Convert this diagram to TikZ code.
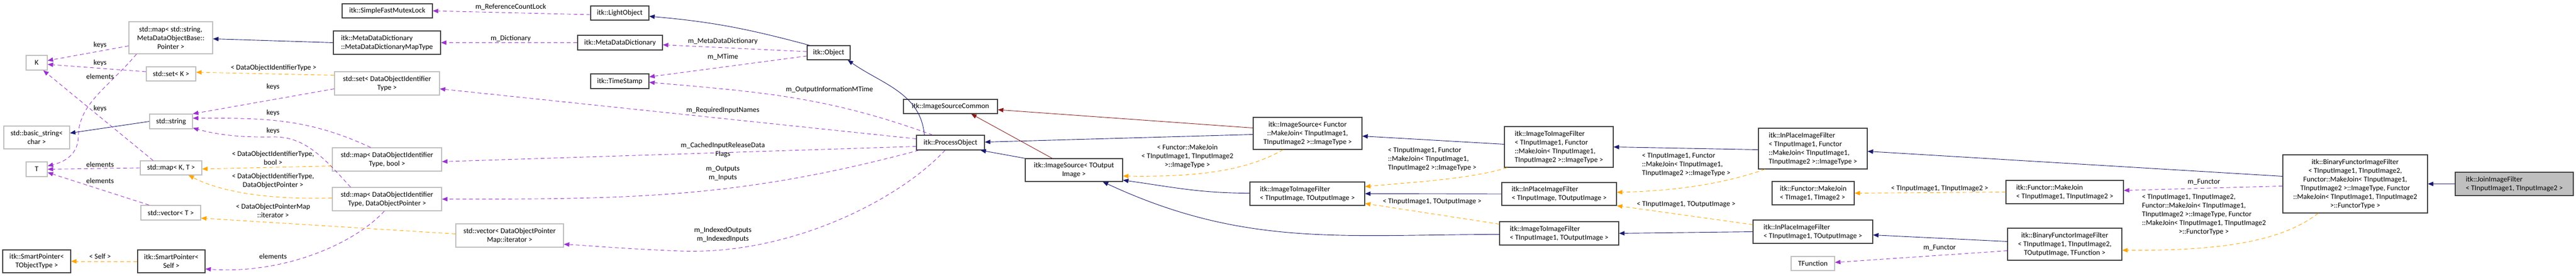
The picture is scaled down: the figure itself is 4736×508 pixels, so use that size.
\documentclass[tikz,border=0pt]{standalone}
\usepackage{fontspec}
\setmainfont{Carlito}
\usetikzlibrary{arrows.meta}
\definecolor{navy}{HTML}{191970}
\definecolor{dred}{HTML}{8B1A1A}
\definecolor{purp}{HTML}{9A32CD}
\definecolor{orng}{HTML}{FFA500}
\definecolor{gbord}{HTML}{BFBFBF}
\begin{document}
\begin{tikzpicture}[x=1pt,y=-1pt,
  font=\fontsize{13.5}{16}\selectfont,
  box/.style={draw=black!75,line width=1.2pt,inner sep=2pt,align=center},
  gbox/.style={draw=gbord,line width=1.2pt,inner sep=2pt,align=center},
  lbl/.style={inner sep=0pt,align=center},
  tip/.style={-{Triangle[length=10pt,width=8pt]}},
  inh/.style={tip,draw=navy,line width=0.9pt},
  inr/.style={tip,draw=dred,line width=0.9pt},
  use/.style={tip,draw=purp,line width=0.9pt,dash pattern=on 7pt off 5pt},
  tpl/.style={tip,draw=orng,line width=0.9pt,dash pattern=on 7pt off 5pt}]
\useasboundingbox (0,0) rectangle (4736,508);
% nodes
\node[gbox,minimum width=154,minimum height=59] (m1) at (314,69.5) {std::map< std::string,\\ MetaDataObjectBase::\\ Pointer >};
\node[gbox,minimum width=39,minimum height=27] (K) at (67.5,115.5) {K};
\node[gbox,minimum width=91,minimum height=26] (setK) at (314.5,136) {std::set< K >};
\node[gbox,minimum width=79,minimum height=27] (str) at (314.5,223.5) {std::string};
\node[gbox,minimum width=121,minimum height=42] (basic) at (67.5,253) {std::basic\_string<\\ char >};
\node[gbox,minimum width=39,minimum height=27] (T) at (67.5,311.5) {T};
\node[gbox,minimum width=113,minimum height=26] (mapKT) at (314.5,309) {std::map< K, T >};
\node[gbox,minimum width=110,minimum height=27] (vecT) at (314,391.5) {std::vector< T >};
\node[box,minimum width=125,minimum height=42] (spT) at (67.5,481) {itk::SmartPointer<\\ TObjectType >};
\node[box,minimum width=124,minimum height=42] (spS) at (315,481) {itk::SmartPointer<\\ Self >};
\node[box,minimum width=166,minimum height=26] (mutex) at (712,20) {itk::SimpleFastMutexLock};
\node[box,minimum width=197,minimum height=43,align=left] (mddmap) at (711.5,78.5) {itk::MetaDataDictionary\\ ::MetaDataDictionaryMapType};
\node[gbox,minimum width=193,minimum height=43] (setD) at (711.5,153.5) {std::set< DataObjectIdentifier\\ Type >};
\node[gbox,minimum width=201,minimum height=43] (mapDb) at (711.5,293.5) {std::map< DataObjectIdentifier\\ Type, bool >};
\node[gbox,minimum width=201,minimum height=43] (mapDP) at (711.5,366.5) {std::map< DataObjectIdentifier\\ Type, DataObjectPointer >};
\node[gbox,minimum width=198,minimum height=43] (vecD) at (937,433.5) {std::vector< DataObjectPointer\\ Map::iterator >};
\node[box,minimum width=107,minimum height=26] (light) at (1139.5,24) {itk::LightObject};
\node[box,minimum width=156,minimum height=27] (mdd) at (1140,78.5) {itk::MetaDataDictionary};
\node[box,minimum width=107,minimum height=27] (ts) at (1139.5,149.5) {itk::TimeStamp};
\node[box,minimum width=79,minimum height=26] (obj) at (1523.5,97) {itk::Object};
\node[box,minimum width=125,minimum height=27] (po) at (1747.5,262.5) {itk::ProcessObject};
\node[box,minimum width=173,minimum height=26] (isc) at (1747.5,196) {itk::ImageSourceCommon};
\node[box,minimum width=179,minimum height=42] (isT) at (1974.5,313) {itk::ImageSource< TOutput\\ Image >};
\node[box,minimum width=200,minimum height=59] (isF) at (2404,245.5) {itk::ImageSource< Functor\\ ::MakeJoin< TInputImage1,\\ TInputImage2 >::ImageType >};
\node[box,minimum width=211,minimum height=43,align=left] (i2iT) at (2403.5,356.5) {itk::ImageToImageFilter\\ < TInputImage, TOutputImage >};
\node[box,minimum width=200,minimum height=75,align=left] (i2iF) at (2866,270.5) {itk::ImageToImageFilter\\ < TInputImage1, Functor\\ ::MakeJoin< TInputImage1,\\ TInputImage2 >::ImageType >};
\node[box,minimum width=211,minimum height=42,align=left] (ipT) at (2866.5,357) {itk::InPlaceImageFilter\\ < TInputImage, TOutputImage >};
\node[box,minimum width=219,minimum height=43,align=left] (i2i1) at (2866.5,429.5) {itk::ImageToImageFilter\\ < TInputImage1, TOutputImage >};
\node[box,minimum width=200,minimum height=75,align=left] (ipF) at (3333,273.5) {itk::InPlaceImageFilter\\ < TInputImage1, Functor\\ ::MakeJoin< TInputImage1,\\ TInputImage2 >::ImageType >};
\node[box,minimum width=151,minimum height=43,align=left] (mjT) at (3333.5,355.5) {itk::Functor::MakeJoin\\ < TImage1, TImage2 >};
\node[box,minimum width=220,minimum height=43,align=left] (ip1) at (3333,426.5) {itk::InPlaceImageFilter\\ < TInputImage1, TOutputImage >};
\node[gbox,minimum width=80,minimum height=26] (tf) at (3333,485) {TFunction};
\node[box,minimum width=216,minimum height=43,align=left] (mjI) at (3796,353.5) {itk::Functor::MakeJoin\\ < TInputImage1, TInputImage2 >};
\node[box,minimum width=210,minimum height=59] (bf) at (3796,449.5) {itk::BinaryFunctorImageFilter\\ < TInputImage1, TInputImage2,\\ TOutputImage, TFunction >};
\node[box,minimum width=266,minimum height=107] (big) at (4330,338.5) {itk::BinaryFunctorImageFilter\\ < TInputImage1, TInputImage2,\\ Functor::MakeJoin< TInputImage1,\\ TInputImage2 >::ImageType, Functor\\ ::MakeJoin< TInputImage1, TInputImage2\\ >::FunctorType >};
\node[box,fill=gbord,minimum width=217,minimum height=43,align=left] (join) at (4622.5,338.5) {itk::JoinImageFilter\\ < TInputImage1, TInputImage2 >};
% inheritance
\draw[inh] (mddmap.west) -- ([yshift=-2pt]m1.east);
\draw[inh] (str.west) -- ([yshift=8pt]basic.east);
\draw[inh] ([xshift=5pt]obj.north west) to[out=165,in=-5] ([yshift=-6pt]light.east);
\draw[inh] ([xshift=15pt]po.north west) to[out=95,in=-35] ([xshift=-5pt]obj.south east);
\draw[inh] (isT.north west) -- ([xshift=-8pt]po.south east);
\draw[inh] ([yshift=-2pt]isF.west) -- ([yshift=1pt]po.east);
\draw[inh] ([yshift=1pt]i2iT.west) to[out=180,in=-8] ([yshift=3pt]isT.south east);
\draw[inh] ([yshift=-2pt]i2i1.west) to[out=180,in=-25] ([xshift=53pt]isT.south);
\draw[inh] ([yshift=5pt]i2iF.west) -- ([yshift=-5pt]isF.east);
\draw[inh] (ipT.west) -- (i2iT.east);
\draw[inh] ([yshift=-2pt]ipF.west) -- (i2iF.east);
\draw[inh] (ip1.west) -- (i2i1.east);
\draw[inh] ([yshift=14pt]big.west) -- ([yshift=-5pt]ipF.east);
\draw[inh] ([yshift=5pt]bf.west) -- ([yshift=-6pt]ip1.east);
\draw[inh] (join.west) -- (big.east);
\draw[inr] ([yshift=10pt]isF.west) -- ([yshift=-6pt]isc.east);
\draw[inr] ([xshift=-40pt]isT.north) -- ([xshift=38pt]isc.south);
% usage
\draw[use] ([yshift=-15pt]m1.west) -- ([yshift=4pt]K.east);
\draw[use] ([yshift=4pt]setK.west) -- ([yshift=-3pt]K.east);
\draw[use] ([xshift=-33pt]mapKT.north) -- ([xshift=-8pt]K.south east);
\draw[use] ([xshift=-63pt]m1.south) .. controls (200,160) and (145,190) .. (144,250) .. controls (144,290) and (110,300) .. ([yshift=6pt]T.east);
\draw[use] (mapKT.west) -- (T.east);
\draw[use] ([xshift=-40pt]vecT.north) -- ([yshift=-6pt]T.east);
\draw[use] ([yshift=-10pt]setD.west) -- (str.north east);
\draw[use] ([xshift=-30pt]mapDb.north) to[out=155,in=0] ([yshift=6pt]str.east);
\draw[use] ([xshift=-67pt]mapDP.north) .. controls (595,290) and (560,250) .. (500,252) .. controls (440,253) and (400,248) .. ([yshift=2pt]str.south east);
\draw[use] ([xshift=-5pt]mapDP.south) .. controls (650,450) and (520,505) .. ([yshift=-14pt]spS.east);
\draw[use] ([yshift=-3pt]light.west) -- (mutex.east);
\draw[use] (mdd.west) -- (mddmap.east);
\draw[use] ([yshift=2pt]obj.west) -- ([yshift=-4pt]mdd.east);
\draw[use] ([yshift=-6pt]obj.west) -- ([yshift=8pt]ts.east);
\draw[use] ([xshift=30pt]po.north west) to[out=160,in=-5] ([yshift=-2pt]ts.east);
\draw[use] ([yshift=7pt]po.west) -- ([yshift=-10pt]setD.east);
\draw[use] ([yshift=-7pt]po.west) -- ([yshift=-4pt]mapDb.east);
\draw[use] ([xshift=5pt]po.south west) to[out=195,in=0] (mapDP.east);
\draw[use] ([xshift=-10pt]po.south) .. controls (1650,370) and (1450,470) .. (1250,462) .. controls (1150,458) and (1080,452) .. ([yshift=-16pt]vecD.east);
\draw[use] ([yshift=-4pt]big.west) -- ([yshift=3pt]mjI.east);
\draw[use] ([yshift=-12pt]bf.west) -- ([yshift=2pt]tf.east);
% templates
\draw[tpl] ([yshift=15pt]setD.west) -- ([yshift=3pt]setK.east);
\draw[tpl] ([yshift=-12pt]mapDb.west) -- ([yshift=-2pt]mapKT.east);
\draw[tpl] ([yshift=2pt]mapDP.west) .. controls (480,368) and (400,350) .. ([xshift=-25pt]mapKT.south east);
\draw[tpl] ([yshift=3pt]vecD.west) -- ([yshift=-10pt]vecT.east);
\draw[tpl] (spS.west) -- (spT.east);
\draw[tpl] ([xshift=-45pt]isF.south) .. controls (2290,315) and (2200,326) .. ([yshift=-11pt]isT.east);
\draw[tpl] ([xshift=-95pt]i2iF.south) .. controls (2700,330) and (2600,335) .. ([yshift=13pt]i2iT.east);
\draw[tpl] ([yshift=17pt]i2i1.west) -- ([yshift=-18pt]i2iT.east);
\draw[tpl] ([xshift=-88pt]ipF.south) .. controls (3150,345) and (3050,352) .. ([yshift=3pt]ipT.east);
\draw[tpl] ([yshift=13pt]ip1.west) -- (ipT.south east);
\draw[tpl] (mjI.west) -- (mjT.east);
\draw[tpl] ([xshift=-68pt]big.south) .. controls (4200,440) and (4100,462) .. ([yshift=-11pt]bf.east);
% labels
\node[lbl] (l1) at (184,83) {keys};
\node[lbl] (l2) at (184,116) {keys};
\node[lbl] (l3) at (184,141) {elements};
\node[lbl] (l4) at (184,200) {keys};
\node[lbl] (l5) at (184,303) {elements};
\node[lbl] (l6) at (184,333) {elements};
\node[lbl] (l7) at (184,472) {< Self >};
\node[lbl] (l8) at (503,125) {< DataObjectIdentifierType >};
\node[lbl] (l9) at (502,160) {keys};
\node[lbl] (l10) at (502,208) {keys};
\node[lbl] (l11) at (502,241) {keys};
\node[lbl] (l12) at (502,291) {< DataObjectIdentifierType,\\ bool >};
\node[lbl] (l13) at (502,333) {< DataObjectIdentifierType,\\ DataObjectPointer >};
\node[lbl] (l14) at (502,388) {< DataObjectPointerMap\\ ::iterator >};
\node[lbl] (l15) at (502,472) {elements};
\node[lbl] (l16) at (939,13) {m\_ReferenceCountLock};
\node[lbl] (l17) at (939,71) {m\_Dictionary};
\node[lbl] (l18) at (1329,76) {m\_MetaDataDictionary};
\node[lbl] (l19) at (1329,105) {m\_MTime};
\node[lbl] (l20) at (1525,165) {m\_OutputInformationMTime};
\node[lbl] (l21) at (1329,203) {m\_RequiredInputNames};
\node[lbl] (l22) at (1329,276) {m\_CachedInputReleaseData\\ Flags};
\node[lbl] (l23) at (1329,319) {m\_Outputs\\ m\_Inputs};
\node[lbl] (l24) at (1329,432) {m\_IndexedOutputs\\ m\_IndexedInputs};
\node[lbl] (l25) at (2183,288) {< Functor::MakeJoin\\ < TInputImage1, TInputImage2\\ >::ImageType >};
\node[lbl,align=left] (l26) at (2633,293) {< TInputImage1, Functor\\ ::MakeJoin< TInputImage1,\\ TInputImage2 >::ImageType >};
\node[lbl] (l27) at (2633,371) {< TInputImage1, TOutputImage >};
\node[lbl,align=left] (l28) at (3100,303) {< TInputImage1, Functor\\ ::MakeJoin< TInputImage1,\\ TInputImage2 >::ImageType >};
\node[lbl] (l29) at (3100,376) {< TInputImage1, TOutputImage >};
\node[lbl] (l30) at (3566,347) {< TInputImage1, TInputImage2 >};
\node[lbl] (l31) at (3566,456) {m\_Functor};
\node[lbl] (l32) at (4052,335) {m\_Functor};
\node[lbl,align=left] (l33) at (4052,395) {< TInputImage1, TInputImage2,\\ Functor::MakeJoin< TInputImage1,\\ TInputImage2 >::ImageType, Functor\\ ::MakeJoin< TInputImage1, TInputImage2\\ \hspace*{5em}>::FunctorType >};
\end{tikzpicture}
\end{document}
